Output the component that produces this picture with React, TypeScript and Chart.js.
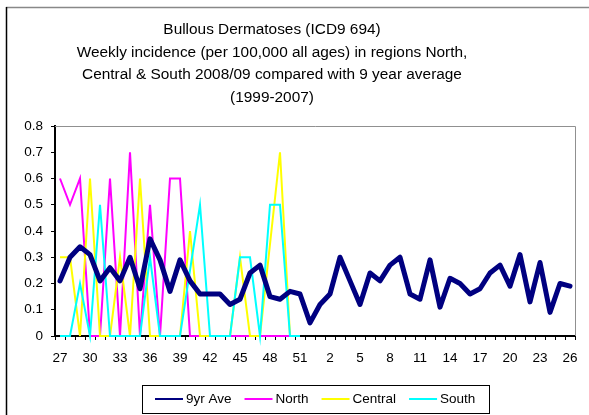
import React, { useEffect, useRef } from "react";
import { Chart, registerables } from "chart.js";

Chart.register(...registerables);

// ---- data ----
const weeks = [
  "27", "28", "29", "30", "31", "32", "33", "34", "35", "36", "37", "38", "39",
  "40", "41", "42", "43", "44", "45", "46", "47", "48", "49", "50", "51", "52",
  "1", "2", "3", "4", "5", "6", "7", "8", "9", "10", "11", "12", "13",
  "14", "15", "16", "17", "18", "19", "20", "21", "22", "23", "24", "25", "26",
];

const avg9yr = [
  0.21, 0.30, 0.34, 0.31, 0.21, 0.26, 0.21, 0.30, 0.18, 0.37,
  0.29, 0.17, 0.29, 0.21, 0.16, 0.16, 0.16, 0.12, 0.14, 0.24,
  0.27, 0.15, 0.14, 0.17, 0.16, 0.05, 0.12, 0.16, 0.30, 0.21,
  0.12, 0.24, 0.21, 0.27, 0.30, 0.16, 0.14, 0.29, 0.11, 0.22,
  0.20, 0.16, 0.18, 0.24, 0.27, 0.19, 0.31, 0.13, 0.28, 0.09,
  0.20, 0.19,
];

const north = [
  0.6, 0.5, 0.6, 0, 0, 0.6, 0, 0.7, 0, 0.5, 0, 0.6, 0.6,
  0, 0, 0, 0, 0, 0, 0, 0, 0, 0, 0,
];

const central = [
  0.3, 0.3, 0, 0.6, 0, 0, 0.3, 0, 0.6, 0, 0, 0, 0,
  0.4, 0, 0, 0, 0, 0.3, 0, 0, 0.35, 0.7, 0,
];

const south = [
  0, 0, 0.2, 0, 0.5, 0, 0, 0, 0, 0.3, 0, 0, 0,
  0.25, 0.5, 0, 0, 0, 0.3, 0.3, 0, 0.5, 0.5, 0, 0,
];

const seriesNames = ["9yr Ave", "North", "Central", "South"];
const seriesColors = ["#000080", "#FF00FF", "#FFFF00", "#00FFFF"];

const titleLines = [
  "Bullous Dermatoses (ICD9 694)",
  "Weekly incidence (per 100,000 all ages) in regions North,",
  "Central & South 2008/09 compared with 9 year average",
  "(1999-2007)",
];

const FONT = '"Liberation Sans", Arial, sans-serif';

const decorPlugin = {
  id: "decor",
  beforeDraw(chart: any) {
    const ctx = chart.ctx;
    ctx.save();
    ctx.fillStyle = "#ffffff";
    ctx.fillRect(0, 0, chart.width, chart.height);
    // outer chart border
    ctx.strokeStyle = "#888888";
    ctx.lineWidth = 1.5;
    ctx.beginPath();
    ctx.moveTo(6, 7.5);
    ctx.lineTo(chart.width, 7.5);
    ctx.stroke();
    ctx.strokeStyle = "#000000";
    ctx.beginPath();
    ctx.moveTo(6.5, 7);
    ctx.lineTo(6.5, chart.height);
    ctx.stroke();
    ctx.restore();
  },
  beforeDatasetsDraw(chart: any) {
    const { ctx, chartArea } = chart;
    ctx.save();
    ctx.strokeStyle = "#909090";
    ctx.lineWidth = 1;
    ctx.beginPath();
    ctx.moveTo(chartArea.left, chartArea.top + 0.5);
    ctx.lineTo(chartArea.right + 0.5, chartArea.top + 0.5);
    ctx.lineTo(chartArea.right + 0.5, chartArea.bottom);
    ctx.stroke();
    ctx.restore();
  },
  afterDraw(chart: any) {
    const ctx = chart.ctx;
    ctx.save();
    // title
    ctx.fillStyle = "#000000";
    ctx.textAlign = "center";
    ctx.textBaseline = "middle";
    ctx.font = `15.4px ${FONT}`;
    const titleX = 272;
    const titleY0 = 30;
    const lineH = 22.5;
    titleLines.forEach((t, i) => ctx.fillText(t, titleX, titleY0 + i * lineH));

    // legend
    ctx.font = `13.5px ${FONT}`;
    ctx.textAlign = "left";
    ctx.strokeStyle = "#000000";
    ctx.lineWidth = 1;
    ctx.strokeRect(142.5, 385.5, 347, 28);
    let x = 155;
    const ly = 399;
    chart.data.datasets.forEach((ds: any) => {
      ctx.strokeStyle = ds.borderColor;
      ctx.lineWidth = 2;
      ctx.beginPath();
      ctx.moveTo(x, ly);
      ctx.lineTo(x + 28, ly);
      ctx.stroke();
      ctx.fillStyle = "#000000";
      ctx.fillText(ds.label, x + 31, ly);
      x = x + 31 + ctx.measureText(ds.label).width + 13;
    });
    ctx.restore();
  },
};

export default function App() {
  const canvasRef = useRef<HTMLCanvasElement | null>(null);

  useEffect(() => {
    const canvas = canvasRef.current;
    if (!canvas) return;
    const seriesData = [avg9yr, north, central, south];
    const chart = new Chart(canvas, {
      type: "line",
      data: {
        labels: weeks,
        datasets: seriesData.map((d, i) => ({
          label: seriesNames[i],
          data: d,
          borderColor: seriesColors[i],
          backgroundColor: seriesColors[i],
          borderWidth: i === 0 ? 5 : 2,
          pointRadius: 0,
          tension: 0,
          fill: false,
          clip: false,
          borderJoinStyle: i === 0 ? "round" : "miter",
          borderCapStyle: i === 0 ? "round" : "butt",
          order: i === 0 ? 0 : 4 - i,
        })),
      },
      options: {
        animation: false,
        responsive: false,
        maintainAspectRatio: false,
        devicePixelRatio: 1,
        layout: { padding: { left: 0, top: 126, right: 14, bottom: 49 } },
        plugins: {
          legend: { display: false },
          title: { display: false },
          tooltip: { enabled: false },
        },
        scales: {
          x: {
            type: "category",
            offset: true,
            grid: {
              offset: true,
              drawOnChartArea: false,
              drawTicks: true,
              tickLength: 4,
              color: "#000000",
              lineWidth: 1,
            },
            border: { display: true, color: "#000000", width: 2 },
            ticks: {
              autoSkip: false,
              maxRotation: 0,
              minRotation: 0,
              padding: 10,
              color: "#000000",
              font: { family: FONT, size: 13.5 },
              callback: (_v: any, idx: number) => (idx % 3 === 0 ? weeks[idx] : ""),
            },
            afterFit: (s: any) => {
              s.height = 30;
            },
          },
          y: {
            min: 0,
            max: 0.8,
            grid: {
              drawOnChartArea: false,
              drawTicks: true,
              tickLength: 4,
              color: "#000000",
            },
            border: { display: true, color: "#000000", width: 2 },
            ticks: {
              stepSize: 0.1,
              padding: 8,
              color: "#000000",
              font: { family: FONT, size: 13.5 },
              callback: (v: any) => (Number(v) === 0 ? "0" : Number(v).toFixed(1)),
            },
            afterFit: (s: any) => {
              s.width = 55;
            },
          },
        },
      },
      plugins: [decorPlugin],
    } as any);
    return () => chart.destroy();
  }, []);

  return (
    <div style={{ position: "absolute", left: 0, top: 0, width: 589, height: 415 }}>
      <canvas ref={canvasRef} width={589} height={415} style={{ width: 589, height: 415, display: "block" }} />
    </div>
  );
}
